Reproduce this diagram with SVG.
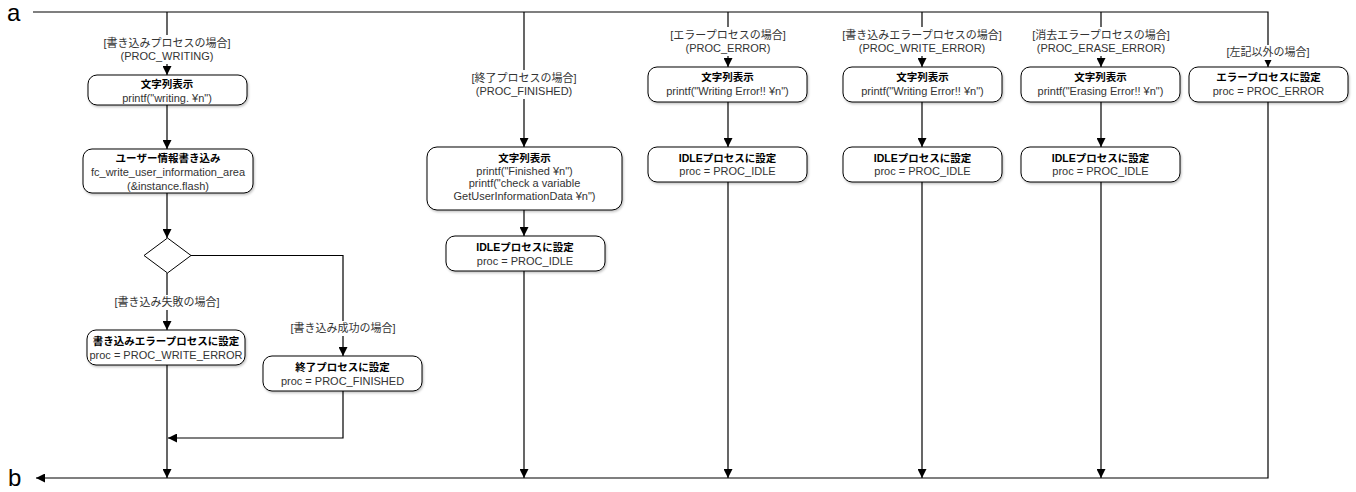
<svg xmlns="http://www.w3.org/2000/svg" width="1356" height="492" viewBox="0 0 1356 492">
<style>
text{font-family:"Liberation Sans","Noto Sans CJK JP",sans-serif;font-size:11px;fill:#333;text-anchor:middle}
.t{font-weight:bold;fill:#000;font-size:10.5px}
.big{font-size:24px;fill:#000;text-anchor:start}
.n{fill:#fff;stroke:#000;stroke-width:1;filter:url(#sh)}
.c{fill:none;stroke:#000;stroke-width:1.2}
.d{fill:#fff;stroke:#000;stroke-width:1}
.bg{fill:#fff;stroke:none}
</style>
<defs>
<filter id="sh" x="-10%" y="-20%" width="130%" height="150%"><feDropShadow dx="1" dy="1.5" stdDeviation="1" flood-color="#000" flood-opacity="0.25"/></filter>
<marker id="ar" viewBox="0 0 10 10" refX="10" refY="5" markerWidth="9" markerHeight="9" markerUnits="userSpaceOnUse" orient="auto"><path d="M0,0L10,5L0,10z" fill="#000"/></marker>
</defs>
<text class="big" x="7" y="21">a</text>
<text class="big" x="8" y="486">b</text>
<g id="connectors">
<path class="c" d="M33,12H1268V67" marker-end="url(#ar)"/>
<path class="c" d="M167,12V75" marker-end="url(#ar)"/>
<path class="c" d="M167,105V149" marker-end="url(#ar)"/>
<path class="c" d="M167,193V238" marker-end="url(#ar)"/>
<path class="c" d="M167,273V330" marker-end="url(#ar)"/>
<path class="c" d="M191,255.5H343V356" marker-end="url(#ar)"/>
<path class="c" d="M167,365V478" marker-end="url(#ar)"/>
<path class="c" d="M343,391V438H168" marker-end="url(#ar)"/>
<path class="c" d="M524,12V147" marker-end="url(#ar)"/>
<path class="c" d="M524,210V236" marker-end="url(#ar)"/>
<path class="c" d="M524,271V478" marker-end="url(#ar)"/>
<path class="c" d="M728,12V67" marker-end="url(#ar)"/>
<path class="c" d="M728,102V147" marker-end="url(#ar)"/>
<path class="c" d="M728,182V478" marker-end="url(#ar)"/>
<path class="c" d="M922,12V67" marker-end="url(#ar)"/>
<path class="c" d="M922,102V147" marker-end="url(#ar)"/>
<path class="c" d="M922,182V478" marker-end="url(#ar)"/>
<path class="c" d="M1101,12V67" marker-end="url(#ar)"/>
<path class="c" d="M1101,102V147" marker-end="url(#ar)"/>
<path class="c" d="M1101,182V478" marker-end="url(#ar)"/>
<path class="c" d="M1268,102V478H36" marker-end="url(#ar)"/>
<g id="labels">
<rect class="bg" x="102" y="35" width="130" height="29"/>
<rect class="bg" x="112" y="295" width="110" height="15"/>
<rect class="bg" x="288" y="321" width="110" height="15"/>
<rect class="bg" x="466" y="70" width="116" height="29"/>
<rect class="bg" x="666" y="27" width="124" height="29"/>
<rect class="bg" x="840" y="27" width="164" height="29"/>
<rect class="bg" x="1028" y="27" width="146" height="29"/>
<rect class="bg" x="1222" y="45" width="92" height="15"/>
<text x="167" y="47">[書き込みプロセスの場合]</text>
<text x="167" y="60">(PROC_WRITING)</text>
<text x="167" y="306">[書き込み失敗の場合]</text>
<text x="343" y="332">[書き込み成功の場合]</text>
<text x="524" y="82">[終了プロセスの場合]</text>
<text x="524" y="95">(PROC_FINISHED)</text>
<text x="728" y="39">[エラープロセスの場合]</text>
<text x="728" y="52">(PROC_ERROR)</text>
<text x="922" y="39">[書き込みエラープロセスの場合]</text>
<text x="922" y="52">(PROC_WRITE_ERROR)</text>
<text x="1101" y="39">[消去エラープロセスの場合]</text>
<text x="1101" y="52">(PROC_ERASE_ERROR)</text>
<text x="1268" y="56">[左記以外の場合]</text>
</g>
</g>
<g id="n1"><rect class="n" x="88" y="75" width="159" height="30" rx="9"/><text class="t" x="167" y="88">文字列表示</text><text x="167" y="102">printf("writing. ¥n")</text></g>
<g id="n2"><rect class="n" x="83" y="149" width="170" height="44" rx="9"/><text class="t" x="168" y="162">ユーザー情報書き込み</text><text x="168" y="176">fc_write_user_information_area</text><text x="168" y="190">(&amp;instance.flash)</text></g>
<g id="dec"><path class="d" d="M167.5,238L191,255.5L167.5,273L144,255.5z"/></g>
<g id="n3"><rect class="n" x="87" y="330" width="158" height="35" rx="9"/><text class="t" x="166" y="345">書き込みエラープロセスに設定</text><text x="166" y="359">proc = PROC_WRITE_ERROR</text></g>
<g id="n4"><rect class="n" x="263" y="356" width="159" height="35" rx="9"/><text class="t" x="342.5" y="371">終了プロセスに設定</text><text x="342.5" y="385">proc = PROC_FINISHED</text></g>
<g id="n5"><rect class="n" x="427" y="147" width="195" height="63" rx="10"/><text class="t" x="524.5" y="162">文字列表示</text><text x="524.5" y="174.5">printf("Finished ¥n")</text><text x="524.5" y="187">printf("check a variable</text><text x="524.5" y="199.5">GetUserInformationData ¥n")</text></g>
<g id="n6"><rect class="n" x="446" y="236" width="159" height="35" rx="9"/><text class="t" x="525" y="251">IDLEプロセスに設定</text><text x="525" y="265">proc = PROC_IDLE</text></g>
<g id="n7"><rect class="n" x="648" y="67" width="159" height="35" rx="9"/><text class="t" x="727.5" y="81">文字列表示</text><text x="727.5" y="95">printf("Writing Error!! ¥n")</text></g>
<g id="n8"><rect class="n" x="648" y="147" width="159" height="35" rx="9"/><text class="t" x="727.5" y="162">IDLEプロセスに設定</text><text x="727.5" y="175">proc = PROC_IDLE</text></g>
<g id="n9"><rect class="n" x="843" y="67" width="159" height="35" rx="9"/><text class="t" x="922.5" y="81">文字列表示</text><text x="922.5" y="95">printf("Writing Error!! ¥n")</text></g>
<g id="n10"><rect class="n" x="843" y="147" width="159" height="35" rx="9"/><text class="t" x="922.5" y="162">IDLEプロセスに設定</text><text x="922.5" y="175">proc = PROC_IDLE</text></g>
<g id="n11"><rect class="n" x="1021" y="67" width="159" height="35" rx="9"/><text class="t" x="1100.5" y="81">文字列表示</text><text x="1100.5" y="95">printf("Erasing Error!! ¥n")</text></g>
<g id="n12"><rect class="n" x="1021" y="147" width="159" height="35" rx="9"/><text class="t" x="1100.5" y="162">IDLEプロセスに設定</text><text x="1100.5" y="175">proc = PROC_IDLE</text></g>
<g id="n13"><rect class="n" x="1189" y="67" width="159" height="35" rx="9"/><text class="t" x="1268.5" y="81">エラープロセスに設定</text><text x="1268.5" y="95">proc = PROC_ERROR</text></g>
</svg>
